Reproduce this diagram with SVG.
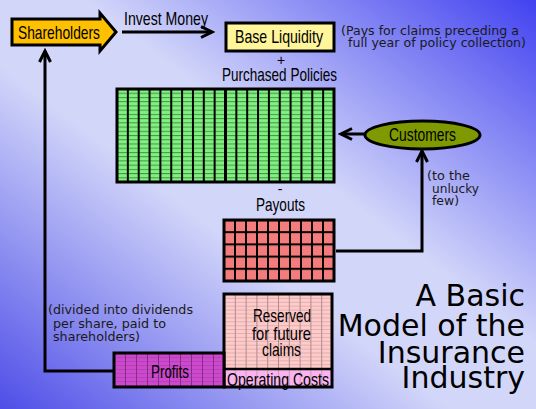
<svg xmlns="http://www.w3.org/2000/svg" width="536" height="409" viewBox="0 0 536 409">
<style>
.lbl{font-family:"Liberation Sans",Arial,sans-serif;font-size:19px;fill:#000}
.note{font-family:"DejaVu Sans",Verdana,sans-serif;font-size:12px;fill:#1a1a1a}
.title{font-family:"DejaVu Sans",Verdana,sans-serif;font-size:30px;fill:#000;text-anchor:end}
.box{stroke:#000;stroke-width:3}
.con{fill:none;stroke:#000;stroke-width:3}
</style>
<defs>
<linearGradient id="bg" x1="1" y1="0" x2="0" y2="1">
<stop offset="0" stop-color="#4242f0"/>
<stop offset="0.42" stop-color="#d2d6f9"/>
<stop offset="0.58" stop-color="#d2d6f9"/>
<stop offset="1" stop-color="#4e4ee8"/>
</linearGradient>
<marker id="ah" markerUnits="userSpaceOnUse" markerWidth="16" markerHeight="16" viewBox="0 0 16 16" refX="13" refY="8" orient="auto">
<path d="M2,2.5 L13,8 L2,13.5" fill="none" stroke="#000" stroke-width="3"/>
</marker>
<pattern id="gv" patternUnits="userSpaceOnUse" x="116" y="0" width="10.85" height="409"><rect x="0" y="0" width="2" height="409" fill="#000"/></pattern>
<pattern id="gh" patternUnits="userSpaceOnUse" x="0" y="88.5" width="536" height="4.23"><rect x="0" y="0" width="536" height="1" fill="#2e6e2e" opacity="0.7"/></pattern>
<pattern id="rv" patternUnits="userSpaceOnUse" x="223" y="0" width="11" height="409"><rect x="0" y="0" width="2" height="409" fill="#000"/></pattern>
<pattern id="rh" patternUnits="userSpaceOnUse" x="0" y="219" width="536" height="12.2"><rect x="0" y="0" width="536" height="2" fill="#000"/></pattern>
<pattern id="pv" patternUnits="userSpaceOnUse" x="224" y="0" width="10.8" height="409"><rect x="0" y="0" width="1" height="409" fill="#b08a8a"/></pattern>
<pattern id="ph" patternUnits="userSpaceOnUse" x="0" y="294" width="536" height="3.9"><rect x="0" y="0" width="536" height="0.8" fill="#c89c9c" opacity="0.7"/></pattern>
<pattern id="mv" patternUnits="userSpaceOnUse" x="114" y="0" width="11" height="409"><rect x="0" y="0" width="1" height="409" fill="#8a2a8a"/></pattern>
<pattern id="mh" patternUnits="userSpaceOnUse" x="0" y="353" width="536" height="4"><rect x="0" y="0" width="536" height="0.8" fill="#9a3a9a" opacity="0.6"/></pattern>
</defs>
<rect width="536" height="409" fill="url(#bg)"/>

<g id="connectors">
<line class="con" x1="122" y1="32" x2="212" y2="32" marker-end="url(#ah)"/>
<line class="con" x1="365" y1="134" x2="341" y2="134" marker-end="url(#ah)"/>
<polyline class="con" points="336,251 422,251 422,151" marker-end="url(#ah)"/>
<polyline class="con" points="113,371 45,371 45,51" marker-end="url(#ah)"/>
<text class="lbl" x="124" y="25" textLength="84" lengthAdjust="spacingAndGlyphs">Invest Money</text>
<text class="note" x="427" y="180" textLength="43" lengthAdjust="spacingAndGlyphs">(to the</text>
<text class="note" x="432" y="193" textLength="47" lengthAdjust="spacingAndGlyphs">unlucky</text>
<text class="note" x="432" y="205" textLength="27" lengthAdjust="spacingAndGlyphs">few)</text>
<text class="note" x="48" y="314" textLength="145" lengthAdjust="spacingAndGlyphs">(divided into dividends</text>
<text class="note" x="53" y="328" textLength="113" lengthAdjust="spacingAndGlyphs">per share, paid to</text>
<text class="note" x="53" y="341" textLength="87" lengthAdjust="spacingAndGlyphs">shareholders)</text>
</g>

<g id="shareholders">
<polygon class="box" points="12,19 100,19 100,13 116,32 100,51 100,45 12,45" fill="#ffc000" stroke-linejoin="miter"/>
<text class="lbl" x="18" y="38.5" textLength="82" lengthAdjust="spacingAndGlyphs">Shareholders</text>
</g>

<g id="base-liquidity">
<rect class="box" x="226" y="23" width="108" height="28" fill="#fff59a"/>
<text class="lbl" x="235" y="43" textLength="88" lengthAdjust="spacingAndGlyphs">Base Liquidity</text>
<text class="note" x="341" y="35" textLength="178" lengthAdjust="spacingAndGlyphs">(Pays for claims preceding a</text>
<text class="note" x="348" y="47" textLength="178" lengthAdjust="spacingAndGlyphs">full year of policy collection)</text>
</g>

<g id="purchased-policies">
<text class="lbl" x="281" y="65" text-anchor="middle" style="font-size:14px">+</text>
<text class="lbl" x="222" y="81" textLength="115" lengthAdjust="spacingAndGlyphs">Purchased Policies</text>
<rect x="117" y="89" width="217" height="93" fill="#80f080"/>
<rect x="117" y="89" width="217" height="93" fill="url(#gh)"/>
<rect x="117" y="89" width="217" height="93" fill="url(#gv)"/>
<line x1="225.5" y1="89" x2="225.5" y2="182" stroke="#000" stroke-width="3"/>
<rect class="box" x="117" y="89" width="217" height="93" fill="none"/>
</g>

<g id="customers">
<ellipse class="box" cx="422.5" cy="135" rx="57.5" ry="14" fill="#7f9a00" stroke-width="2.5"/>
<text class="lbl" x="389" y="140.5" textLength="67" lengthAdjust="spacingAndGlyphs" style="font-size:18px">Customers</text>
</g>

<g id="payouts">
<text class="lbl" x="280" y="194" text-anchor="middle" style="font-size:14px">-</text>
<text class="lbl" x="256" y="211" textLength="49" lengthAdjust="spacingAndGlyphs">Payouts</text>
<rect x="224" y="220" width="110" height="61" fill="#f47c7c"/>
<rect x="224" y="220" width="110" height="61" fill="url(#rh)"/>
<rect x="224" y="220" width="110" height="61" fill="url(#rv)"/>
<rect class="box" x="224" y="220" width="110" height="61" fill="none"/>
</g>

<g id="reserved">
<rect x="224" y="294" width="108" height="75" fill="#ffcaca"/>
<rect x="224" y="294" width="108" height="75" fill="url(#ph)"/>
<rect x="224" y="294" width="108" height="93" fill="url(#pv)"/>
<text class="lbl" x="253" y="322" textLength="58" lengthAdjust="spacingAndGlyphs">Reserved</text>
<text class="lbl" x="252" y="340" textLength="59" lengthAdjust="spacingAndGlyphs">for future</text>
<text class="lbl" x="262" y="356" textLength="39" lengthAdjust="spacingAndGlyphs">claims</text>
</g>

<g id="operating-costs">
<rect x="224" y="369" width="108" height="18" fill="#f9b3ef"/>
<rect x="224" y="369" width="108" height="18" fill="url(#pv)" opacity="0.6"/>
<text class="lbl" x="227" y="386" textLength="102" lengthAdjust="spacingAndGlyphs">Operating Costs</text>
<line x1="224" y1="369" x2="332" y2="369" stroke="#000" stroke-width="2.5"/>
<rect class="box" x="224" y="294" width="108" height="93" fill="none"/>
</g>

<g id="profits">
<rect x="114" y="353" width="110" height="34" fill="#cc48cc"/>
<rect x="114" y="353" width="110" height="34" fill="url(#mh)"/>
<rect x="114" y="353" width="110" height="34" fill="url(#mv)"/>
<text class="lbl" x="151" y="378" textLength="38" lengthAdjust="spacingAndGlyphs">Profits</text>
<rect class="box" x="114" y="353" width="110" height="34" fill="none"/>
</g>

<g id="title">
<text class="title" x="525" y="306">A Basic</text>
<text class="title" x="525" y="336">Model of the</text>
<text class="title" x="525" y="363">Insurance</text>
<text class="title" x="525" y="388">Industry</text>
</g>
</svg>
